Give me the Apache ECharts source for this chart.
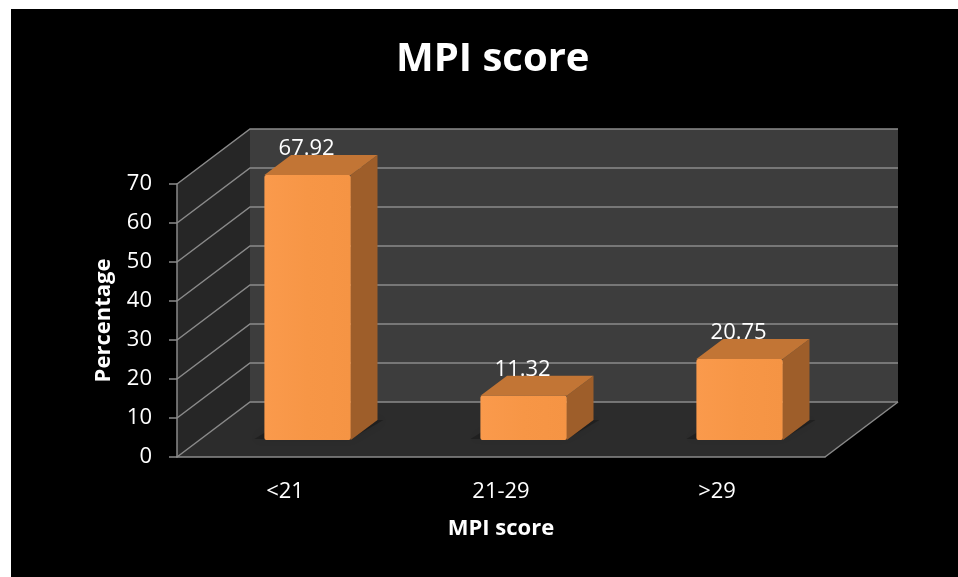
<!DOCTYPE html>
<html>
<head>
<meta charset="utf-8">
<script src="https://cdn.jsdelivr.net/npm/echarts@6/dist/echarts.min.js"></script>
<style>
html,body{margin:0;padding:0;background:#fff;width:958px;height:577px;overflow:hidden;}
#bg{position:absolute;left:11px;top:9px;width:947px;height:568px;background:#000;}
#chart{position:absolute;left:0;top:0;width:958px;height:577px;}
</style>
</head>
<body>
<div id="bg"></div>
<div id="chart"></div>
<script>
// ---- data ----
const categories = ['<21', '21-29', '>29'];
const values = [67.92, 11.32, 20.75];
const yTicks = [0, 10, 20, 30, 40, 50, 60, 70];
const chartTitle = 'MPI score';
const xTitle = 'MPI score';
const yTitle = 'Percentage';

// ---- 3D style constants (pixels) ----
const WALL_DX = 73, WALL_DY = 55;      // depth of the floor / side wall
const FRONT_DX = 22.6, FRONT_DY = 17;  // bar front face offset into depth
const BAR_DX = 26.7, BAR_DY = 20;      // bar depth
const BAR_RATIO = 0.4;
const FONT = '"Open Sans", "Noto Sans", sans-serif';
const GRID_COLOR = '#8a8a8a';

const chart = echarts.init(document.getElementById('chart'), null, {renderer: 'canvas'});

function renderWalls(params, api) {
  const cs = params.coordSys;
  const L = cs.x, R = cs.x + cs.width;
  const y0 = api.coord([0, yTicks[0]])[1];
  const yTop = api.coord([0, yTicks[yTicks.length - 1]])[1];
  const children = [];
  children.push({type: 'polygon', shape: {points: [[L, y0], [L, yTop], [L + WALL_DX, yTop - WALL_DY], [L + WALL_DX, y0 - WALL_DY]]},
    style: {fill: '#262626'}});
  children.push({type: 'rect', shape: {x: L + WALL_DX, y: yTop - WALL_DY, width: R - L, height: y0 - yTop},
    style: {fill: '#3d3d3d'}});
  children.push({type: 'polygon', shape: {points: [[L, y0], [R, y0], [R + WALL_DX, y0 - WALL_DY], [L + WALL_DX, y0 - WALL_DY]]},
    style: {fill: '#2c2c2c'}});
  yTicks.forEach(function (t) {
    const y = api.coord([0, t])[1];
    children.push({type: 'polyline', shape: {points: [[L, y], [L + WALL_DX, y - WALL_DY], [R + WALL_DX, y - WALL_DY]]},
      style: {stroke: GRID_COLOR, lineWidth: 1.5, fill: null}});
  });
  children.push({type: 'line', shape: {x1: R, y1: y0, x2: R + WALL_DX, y2: y0 - WALL_DY},
    style: {stroke: GRID_COLOR, lineWidth: 1.5}});
  return {type: 'group', children: children};
}

function renderBar(params, api) {
  const i = api.value(0), v = api.value(1);
  const c = api.coord([i, v]);
  const c0 = api.coord([i, 0]);
  const bw = api.size([1, 0])[0] * BAR_RATIO;
  const fx = c[0] + FRONT_DX - bw / 2;
  const fyTop = c[1] - FRONT_DY;
  const fyBot = c0[1] - FRONT_DY;
  const h = fyBot - fyTop;
  return {
    type: 'group',
    children: [
      {type: 'polygon', shape: {points: [[fx - 10, fyBot - 1], [fx + bw, fyBot - 1], [fx + bw + BAR_DX + 6, fyBot - BAR_DY], [fx + BAR_DX - 6, fyBot - BAR_DY]]},
        style: {fill: 'rgba(0,0,0,0.25)', shadowBlur: 8, shadowColor: 'rgba(0,0,0,0.35)'}},
      {type: 'polygon', shape: {points: [[fx + bw, fyTop], [fx + bw + BAR_DX, fyTop - BAR_DY], [fx + bw + BAR_DX, fyBot - BAR_DY], [fx + bw, fyBot]]},
        style: {fill: '#9e5e2a'}},
      {type: 'polygon', shape: {points: [[fx, fyTop], [fx + bw, fyTop], [fx + bw + BAR_DX, fyTop - BAR_DY], [fx + BAR_DX, fyTop - BAR_DY]]},
        style: {fill: '#c27535'}},
      {type: 'rect', shape: {x: fx, y: fyTop, width: bw, height: h, r: 2},
        style: {fill: new echarts.graphic.LinearGradient(0, 0, 1, 0, [
          {offset: 0, color: '#fa9a4c'}, {offset: 0.5, color: '#f79646'}, {offset: 1, color: '#f59444'}])}},
      {type: 'text', x: fx + bw / 2 - 1, y: fyTop - BAR_DY + 5,
        style: {text: values[i].toFixed(2), fill: '#ffffff', font: '22px ' + FONT, align: 'center', verticalAlign: 'bottom'}}
    ]
  };
}

const option = {
  animation: false,
  title: {
    text: chartTitle, left: 391, top: 35,
    textStyle: {color: '#fff', fontSize: 40, fontWeight: 'bold', fontFamily: FONT}
  },
  grid: {left: 177, top: 184, width: 648, height: 273, containLabel: false},
  xAxis: {
    type: 'category', data: categories, z: 5,
    name: xTitle, nameLocation: 'middle', nameGap: 61,
    nameTextStyle: {color: '#fff', fontSize: 22, fontWeight: 'bold', fontFamily: FONT},
    axisLine: {lineStyle: {color: GRID_COLOR, width: 1.5}},
    axisTick: {length: 8, lineStyle: {color: GRID_COLOR, width: 1.5}},
    axisLabel: {color: '#fff', fontSize: 22, fontFamily: FONT, margin: 24},
    splitLine: {show: false}
  },
  yAxis: {
    type: 'value', min: 0, max: 70, interval: 10, z: 5,
    name: yTitle, nameLocation: 'middle', nameGap: 62,
    nameTextStyle: {color: '#fff', fontSize: 22, fontWeight: 'bold', fontFamily: FONT},
    axisLine: {show: true, lineStyle: {color: GRID_COLOR, width: 1.5}},
    axisTick: {show: true, length: 8, lineStyle: {color: GRID_COLOR, width: 1.5}},
    axisLabel: {color: '#fff', fontSize: 22, fontFamily: FONT, margin: 25},
    splitLine: {show: false}
  },
  series: [
    {type: 'custom', z: 1, renderItem: renderWalls, data: [[0, 0]], silent: true, clip: false},
    {type: 'custom', z: 2, renderItem: renderBar, clip: false,
      data: values.map(function (v, i) { return [i, v]; })}
  ]
};
chart.setOption(option);
</script>
</body>
</html>
